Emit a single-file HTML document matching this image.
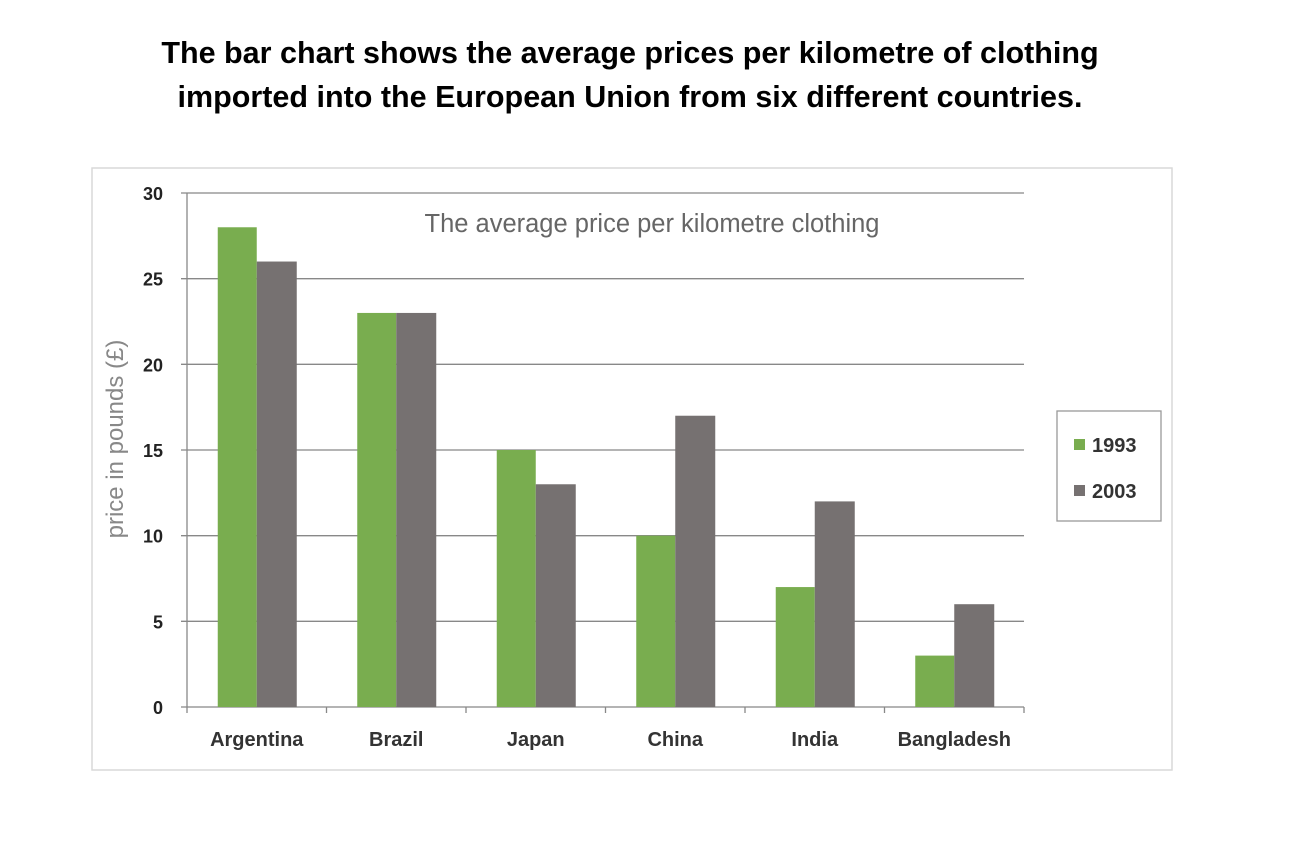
<!DOCTYPE html>
<html><head><meta charset="utf-8"><style>
body{margin:0;background:#fff;width:1314px;height:854px;overflow:hidden;font-family:"Liberation Sans",sans-serif}
</style></head><body>
<div style="position:absolute;left:0;top:31px;width:1260px;text-align:center;font-weight:bold;font-size:30.5px;line-height:44px;color:#000">The bar chart shows the average prices per kilometre of clothing<br>imported into the European Union from six different countries.</div>
<svg id="chart" width="1314" height="854" style="position:absolute;left:0;top:0" xmlns="http://www.w3.org/2000/svg"></svg>
<script>
const categories=["Argentina","Brazil","Japan","China","India","Bangladesh"];
const series1993=[28,23,15,10,7,3];
const series2003=[26,23,13,17,12,6];
const yTicks=[0,5,10,15,20,25,30];
const svg=document.getElementById('chart');
const NS="http://www.w3.org/2000/svg";
function mk(t,a,p){const e=document.createElementNS(NS,t);for(const k in a)e.setAttribute(k,a[k]);(p||svg).appendChild(e);return e;}
const x0=187,x1=1024,y0=707,yTop=193,yMax=30;
const y=v=>y0-(v/yMax)*(y0-yTop);
const cw=(x1-x0)/categories.length;
const xc=i=>x0+cw*(i+0.5);
let b=mk('rect',{x:92,y:168,width:1080,height:602,fill:'#fff',stroke:'#d9d9d9','stroke-width':1.5});

yTicks.forEach(v=>{
 let g=mk('line',{x1:x0-6,x2:x1,y1:y(v),y2:y(v),stroke:'#888','stroke-width':1.3});
 
 let t=mk('text',{x:163,y:y(v)+7,'text-anchor':'end','font-size':18,'font-weight':'bold',fill:'#222'});t.textContent=v;
 
});
let ax=mk('line',{x1:x0,x2:x0,y1:yTop,y2:y0,stroke:'#888','stroke-width':1.3});

for(let i=0;i<=categories.length;i++){let tk=mk('line',{x1:x0+cw*i,x2:x0+cw*i,y1:y0,y2:y0+6,stroke:'#888','stroke-width':1.3});
 }
categories.forEach((c,i)=>{
 const cx=xc(i);
 let r1=mk('rect',{x:cx-39,y:y(series1993[i]),width:39,height:y0-y(series1993[i]),fill:'#79ad4f'});
 
 let r2=mk('rect',{x:cx,y:y(series2003[i]),width:40,height:y0-y(series2003[i]),fill:'#767171'});
 
 let t=mk('text',{x:cx,y:746,'text-anchor':'middle','font-size':20,'font-weight':'bold',fill:'#333'});t.textContent=c;
 
});
let tt=mk('text',{x:652,y:232,'text-anchor':'middle','font-size':25.5,fill:'#666'});tt.textContent="The average price per kilometre clothing";

let yt=mk('text',{x:123,y:439,'text-anchor':'middle','font-size':24,fill:'#888',transform:'rotate(-90 123 439)'});yt.textContent="price in pounds (£)";

let lg=mk('rect',{x:1057,y:411,width:104,height:110,fill:'#fff',stroke:'#999','stroke-width':1.3});

[["1993",'#79ad4f',445],["2003",'#767171',491]].forEach(([n,col,yy])=>{
 let s=mk('rect',{x:1074,y:yy-6,width:11,height:11,fill:col});
 
 let t=mk('text',{x:1092,y:yy+7,'font-size':20,'font-weight':'bold',fill:'#333'});t.textContent=n;
 
});
</script>
</body></html>
